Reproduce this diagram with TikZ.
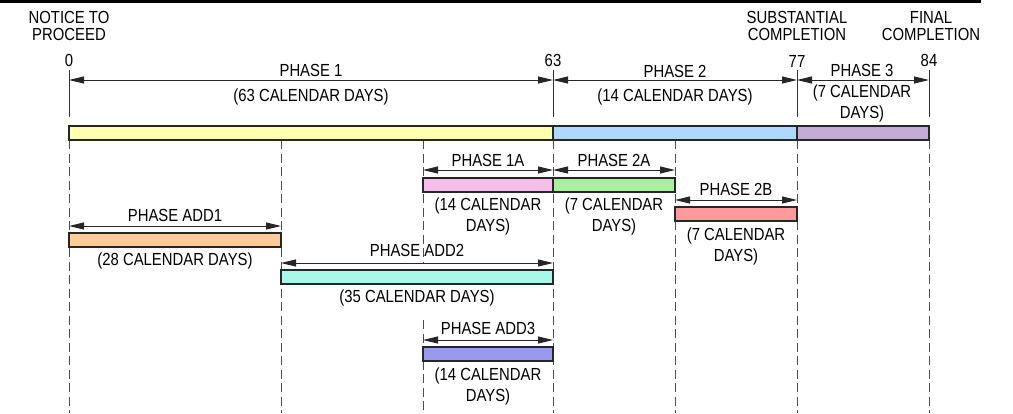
\documentclass[tikz,border=0pt]{standalone}
\usepackage{fontspec}
\setmainfont{Liberation Sans}[FakeStretch=0.85]
\usetikzlibrary{arrows.meta}
\definecolor{cyellow}{HTML}{FFFFB0}
\definecolor{cblue}{HTML}{B0D8FF}
\definecolor{cpurple}{HTML}{C4ACD6}
\definecolor{cpink}{HTML}{F7BEEB}
\definecolor{cgreen}{HTML}{A8F0A0}
\definecolor{cred}{HTML}{FF9A9A}
\definecolor{corange}{HTML}{FFCC99}
\definecolor{caqua}{HTML}{A8F8E8}
\definecolor{cviolet}{HTML}{9999EE}
\tikzset{tip/.tip={Triangle[length=15pt,width=7pt]}}
\begin{document}
\begin{tikzpicture}[x=1pt,y=-1pt,
  lbl/.style={inner sep=0pt, text=black, font=\fontsize{17.5}{21}\selectfont, align=center},
  toplbl/.style={inner sep=0pt, text=black, font=\fontsize{17.5}{16.5}\selectfont, align=center},
  bar/.style={draw=black!85, line width=1.1pt},
  dim/.style={line width=1pt, draw=black!85, tip-tip},
  tickline/.style={line width=1pt, draw=black!80},
  guide/.style={draw=black!70, line width=1pt, dash pattern=on 9pt off 4.5pt},
]
\useasboundingbox (0,0) rectangle (1013,413);
% top rule
\coordinate (ruleL) at (0,1.3);
\coordinate (ruleR) at (981,1.3);
\draw[line width=2.7pt] (ruleL) -- (ruleR);

% milestone labels
\node[toplbl] (ntp) at (69,26) {NOTICE TO\\PROCEED};
\node[toplbl] (subc) at (797,26) {SUBSTANTIAL\\COMPLETION};
\node[toplbl] (finc) at (931,26) {FINAL\\COMPLETION};
\node[lbl] (d0) at (69,60) {0};
\node[lbl] (d63) at (553,60) {63};
\node[lbl] (d77) at (797,61) {77};
\node[lbl] (d84) at (929,60) {84};

% ticks
\foreach \x/\n in {69/a,553/b,797/c,929/d}{
  \coordinate (tt\n) at (\x,70);
  \coordinate (tb\n) at (\x,117);
  \draw[tickline] (tt\n) -- (tb\n);
}

% dashed guides
\foreach \x/\n in {69/a,281/b,553/c,675/d,797/e,929/f}{
  \coordinate (gt\n) at (\x,140);
  \coordinate (gb\n) at (\x,413);
  \draw[guide] (gt\n) -- (gb\n);
}
\coordinate (g1t) at (423,140);
\coordinate (g1b) at (423,263);
\coordinate (g2t) at (423,320);
\coordinate (g2b) at (423,413);
\draw[guide] (g1t) -- (g1b);
\draw[guide] (g2t) -- (g2b);

% main dimension lines
\coordinate (t0) at (69,80);
\coordinate (t63) at (553,80);
\coordinate (t77) at (797,80);
\coordinate (t84) at (929,80);
\draw[dim] (t0) -- (t63);
\draw[dim] (t63) -- (t77);
\draw[dim] (t77) -- (t84);

\node[lbl] (p1) at (311,70) {PHASE 1};
\node[lbl] (p1d) at (311,97) {(63 CALENDAR DAYS)};
\node[lbl] (p2) at (675,71) {PHASE 2};
\node[lbl] (p2d) at (675,97) {(14 CALENDAR DAYS)};
\node[lbl] (p3) at (862,70) {PHASE 3};
\node[lbl] (p3d) at (862,103) {(7 CALENDAR\\DAYS)};

% main bar
\draw[bar, fill=cyellow] (69,126) rectangle (553,140);
\draw[bar, fill=cblue] (553,126) rectangle (797,140);
\draw[bar, fill=cpurple] (797,126) rectangle (929,140);

% phase 1A
\coordinate (a1l) at (423,170); \coordinate (a1r) at (553,170);
\draw[dim] (a1l) -- (a1r);
\draw[bar, fill=cpink] (423,178) rectangle (553,192);
\node[lbl] (p1a) at (488,160) {PHASE 1A};
\node[lbl] (p1ad) at (488,216) {(14 CALENDAR\\DAYS)};

% phase 2A
\coordinate (a2l) at (553,170); \coordinate (a2r) at (675,170);
\draw[dim] (a2l) -- (a2r);
\draw[bar, fill=cgreen] (553,178) rectangle (675,192);
\node[lbl] (p2a) at (614,160) {PHASE 2A};
\node[lbl] (p2ad) at (614,216) {(7 CALENDAR\\DAYS)};

% phase 2B
\coordinate (b2l) at (675,200); \coordinate (b2r) at (797,200);
\draw[dim] (b2l) -- (b2r);
\draw[bar, fill=cred] (675,207) rectangle (797,221);
\node[lbl] (p2b) at (736,189) {PHASE 2B};
\node[lbl] (p2bd) at (736,246) {(7 CALENDAR\\DAYS)};

% phase add1
\coordinate (x1l) at (69,226); \coordinate (x1r) at (281,226);
\draw[dim] (x1l) -- (x1r);
\draw[bar, fill=corange] (69,233) rectangle (281,247);
\node[lbl] (pa1) at (175,215) {PHASE ADD1};
\node[lbl] (pa1d) at (175,261) {(28 CALENDAR DAYS)};

% phase add2
\coordinate (x2l) at (281,263); \coordinate (x2r) at (553,263);
\draw[dim] (x2l) -- (x2r);
\draw[bar, fill=caqua] (281,270) rectangle (553,284);
\node[lbl] (pa2) at (417,250) {PHASE ADD2};
\node[lbl] (pa2d) at (417,298) {(35 CALENDAR DAYS)};

% phase add3
\coordinate (x3l) at (423,340); \coordinate (x3r) at (553,340);
\draw[dim] (x3l) -- (x3r);
\draw[bar, fill=cviolet] (423,347) rectangle (553,361);
\node[lbl] (pa3) at (488,328) {PHASE ADD3};
\node[lbl] (pa3d) at (488,386) {(14 CALENDAR\\DAYS)};
\end{tikzpicture}
\end{document}
